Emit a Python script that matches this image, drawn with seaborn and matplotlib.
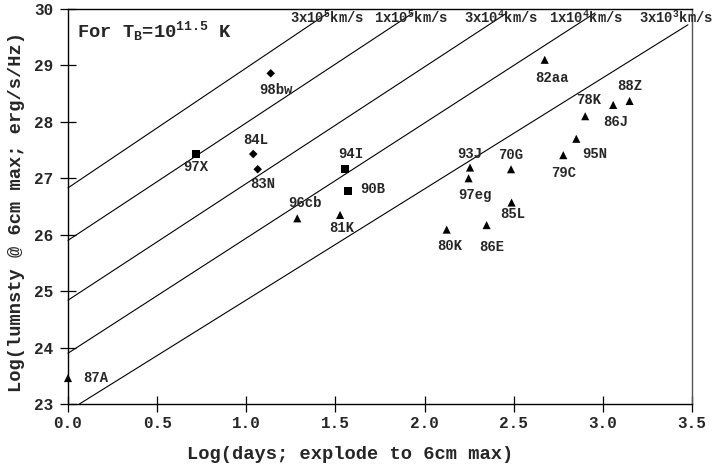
import matplotlib
matplotlib.use("Agg")
import matplotlib.pyplot as plt
import pandas as pd
import seaborn as sns

sns.set_style("ticks")
plt.rcParams["font.family"] = ["Liberation Mono", "DejaVu Sans"]
plt.rcParams["font.weight"] = "bold"
plt.rcParams["mathtext.fontset"] = "custom"
plt.rcParams["mathtext.rm"] = "Liberation Mono:bold"
plt.rcParams["mathtext.it"] = "Liberation Mono:bold"
plt.rcParams["mathtext.bf"] = "Liberation Mono:bold"

# Supernovae: log(days from explosion to 6 cm peak), log peak luminosity
names = ["98bw", "97X", "84L", "83N", "94I", "90B", "96cb", "81K", "87A",
         "93J", "97eg", "70G", "82aa", "78K", "86J", "88Z", "95N", "79C",
         "85L", "86E", "80K"]
log_days = [1.137, 0.718, 1.039, 1.064, 1.554, 1.572, 1.286, 1.526, 0.0,
            2.255, 2.247, 2.485, 2.674, 2.901, 3.058, 3.150, 2.851, 2.778,
            2.488, 2.348, 2.124]
log_lum = [28.86, 27.43, 27.43, 27.16, 27.16, 26.78, 26.29, 26.35, 23.46,
           27.19, 27.00, 27.16, 29.10, 28.10, 28.30, 28.37, 27.70, 27.41,
           26.57, 26.17, 26.09]
group = ["diamond", "square", "diamond", "diamond", "square", "square",
         "triangle", "triangle", "triangle", "triangle", "triangle",
         "triangle", "triangle", "triangle", "triangle", "triangle",
         "triangle", "triangle", "triangle", "triangle", "triangle"]

# Constant-expansion-speed lines for T_B = 10^11.5 K
speed_labels = ["3x10$^5$km/s", "1x10$^5$km/s", "3x10$^4$km/s",
                "1x10$^4$km/s", "3x10$^3$km/s"]
line_x0 = [0.0, 0.0, 0.0, 0.0, 0.064]
line_y0 = [26.83, 25.90, 24.84, 23.90, 23.0]
line_x1 = [1.458, 1.935, 2.462, 2.956, 3.477]
line_y1 = [29.93, 29.93, 29.93, 29.93, 29.72]

x_ticks = [0.0, 0.5, 1.0, 1.5, 2.0, 2.5, 3.0, 3.5]
y_ticks = [23, 24, 25, 26, 27, 28, 29, 30]

# label placement (offset from marker, in points)
label_offset = {
    "98bw": (4, -12), "97X": (0, -9), "84L": (2, 10), "83N": (4, -10.5),
    "94I": (4, 11), "90B": (18, 1.5), "96cb": (5.5, 11), "81K": (1, -9.5),
    "87A": (20, 0), "93J": (0, 10), "97eg": (4.5, -12), "70G": (0, 10.3),
    "82aa": (5, -13), "78K": (2.5, 11.5), "86J": (2, -12), "88Z": (0, 10.5),
    "95N": (13.5, -10.8), "79C": (0, -13), "85L": (1, -8.4),
    "86E": (4, -15.6), "80K": (2, -11.8),
}
speed_label_x = [1.245, 1.716, 2.221, 2.698, 3.200]

df = pd.DataFrame({"name": names, "log_days": log_days,
                   "log_lum": log_lum, "group": group})

fig = plt.figure(figsize=(7.13, 4.67), dpi=100)
ax = fig.add_axes([68 / 713, 1 - 404 / 467, 624 / 713, 395 / 467])

for x0, y0, x1, y1 in zip(line_x0, line_y0, line_x1, line_y1):
    ax.plot([x0, x1], [y0, y1], color="black", lw=0.8, clip_on=False)

sns.scatterplot(data=df, x="log_days", y="log_lum", style="group",
                size="group",
                markers={"square": "s", "diamond": "D", "triangle": "^"},
                sizes={"square": 34, "diamond": 19, "triangle": 34},
                color="black", edgecolor="none", linewidth=0,
                legend=False, clip_on=False, zorder=3, ax=ax)

for n, x, y in zip(names, log_days, log_lum):
    ax.annotate(n, (x, y), xytext=label_offset[n], textcoords="offset points",
                ha="center", va="center", fontsize=10, fontweight="bold")

for lab, lx in zip(speed_labels, speed_label_x):
    ax.text(lx, 29.75, lab, ha="left", va="baseline", fontsize=10,
            fontweight="bold", clip_on=False)

ax.text(0.0144, 0.927, "For T$_B$=10$^{11.5}$ K", transform=ax.transAxes,
        ha="left", va="baseline", fontsize=13.5, fontweight="bold")

ax.set_xlim(0, 3.5)
ax.set_ylim(23, 30)
ax.set_xticks(x_ticks)
ax.set_xticklabels([f"{t:.1f}" for t in x_ticks])
ax.set_yticks(y_ticks)
ax.tick_params(direction="inout", length=11, width=0.9, labelsize=11.5,
               color="black", top=False, right=False)
ax.tick_params(axis="x", pad=3.5)
ax.tick_params(axis="y", pad=5)
for sp in ax.spines.values():
    sp.set_visible(True)
    sp.set_color("black")
    sp.set_linewidth(1.0)
ax.spines["right"].set_color("#555555")

ax.set_xlabel("Log(days; explode to 6cm max)", fontsize=13.5, fontweight="bold")
ax.set_ylabel("Log(lumnsty @ 6cm max; erg/s/Hz)", fontsize=13.5,
              fontweight="bold")
ax.xaxis.set_label_coords(0.452, -0.129)
ax.yaxis.set_label_coords(-0.082, 0.486)
ax.xaxis.label.set_va("center")
ax.yaxis.label.set_va("center")

fig.savefig("out.png", dpi=100)
